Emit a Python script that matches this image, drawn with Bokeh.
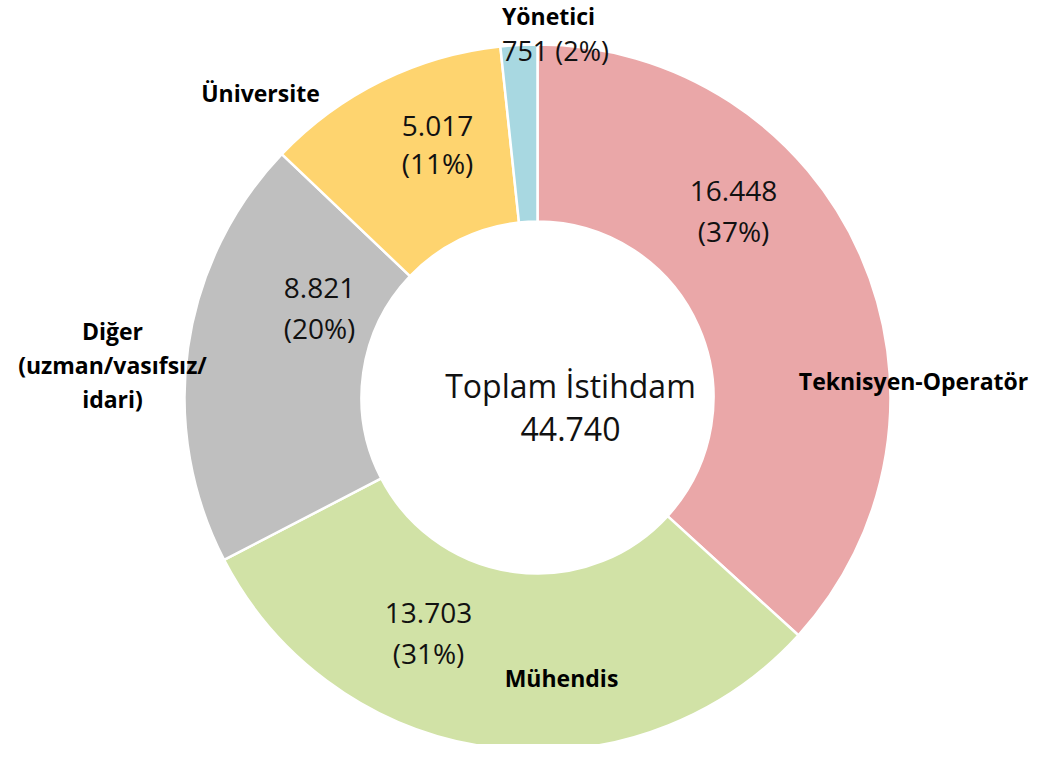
from math import pi
from bokeh.plotting import figure
from bokeh.models import Range1d, ColumnDataSource
from bokeh.core.properties import value
from bokeh.embed import file_html
from bokeh.resources import INLINE

categories = ["Teknisyen-Operatör", "Mühendis", "Diğer\n(uzman/vasıfsız/\nidari)", "Üniversite", "Yönetici"]
values = [16448, 13703, 8821, 5017, 751]
colors = ["#EAA7A8", "#D1E2A6", "#BFBFBF", "#FED46F", "#A8D8E1"]
center_title = "Toplam İstihdam"

total = sum(values)

def fmt(v):
    return f"{v:,}".replace(",", ".")

# page -> data helper (y up)
H = 760
def Y(py):
    return H - py

cx, cy = 537, Y(397)
r_out, r_in = 353, 176

starts, ends = [], []
cum = 0
for v in values:
    a0 = pi / 2 - 2 * pi * cum / total
    cum += v
    a1 = pi / 2 - 2 * pi * cum / total
    starts.append(a1)
    ends.append(a0)

src = ColumnDataSource(dict(start=starts, end=ends, color=colors))

p = figure(width=1034, height=744, output_backend="svg", toolbar_location=None,
           x_range=Range1d(0, 1034), y_range=Range1d(16, 760), min_border=0)
p.axis.visible = False
p.grid.visible = False
p.outline_line_color = None
p.background_fill_color = "white"

p.annular_wedge(x=cx, y=cy, inner_radius=r_in, outer_radius=r_out,
                start_angle="start", end_angle="end", direction="anticlock",
                fill_color="color", line_color="white", line_width=2.5, source=src)

font = value("Open Sans")
pct = [f"({round(100 * v / total)}%)" for v in values]

# value labels (page positions)
val_pos = [(733, 190, 230), (428, 612, 652), (319, 287, 327), (437, 125, 162)]
for i, (px, py1, py2) in enumerate(val_pos):
    p.text(x=[px, px], y=[Y(py1), Y(py2)], text=[fmt(values[i]), pct[i]],
           text_font=font, text_font_size="28px", text_color="#111111",
           text_align="center", text_baseline="middle")
p.text(x=[555], y=[Y(50)], text=[f"{fmt(values[4])} {pct[4]}"],
       text_font=font, text_font_size="27px", text_color="#111111",
       text_align="center", text_baseline="middle")

# category labels
cat_pos = [(913, 380), (561, 677), (112, 364), (260, 92), (548, 15)]
for i, (px, py) in enumerate(cat_pos):
    lines = categories[i].split("\n")
    n = len(lines)
    ys = [Y(py + (k - (n - 1) / 2) * 34) for k in range(n)]
    p.text(x=[px] * n, y=ys, text=lines, text_font=font, text_font_style="bold",
           text_font_size="23px", text_color="#000000",
           text_align="center", text_baseline="middle")

p.text(x=[570, 570], y=[Y(385), Y(428)], text=[center_title, fmt(total)],
       text_font=font, text_font_size="32px", text_color="#111111",
       text_align="center", text_baseline="middle")

open("out.html", "w").write(file_html(p, INLINE))
